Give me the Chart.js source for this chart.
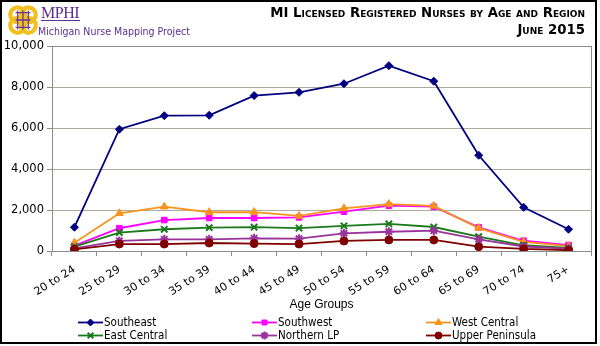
<!DOCTYPE html>
<html>
<head>
<meta charset="utf-8">
<script src="https://cdn.jsdelivr.net/npm/chart.js@4.4.1/dist/chart.umd.min.js"></script>
<style>
  html, body { margin: 0; padding: 0; background: #fff; }
  #frame { position: relative; width: 600px; height: 346px; overflow: hidden; }
  #box { position: absolute; left: 0; top: 0; width: 597px; height: 344px; box-sizing: border-box; border: 2px solid #000; }
  #chart { position: absolute; left: 0; top: 0; }
  #logo { position: absolute; left: 6px; top: 3px; }
  #brand { position: absolute; left: 41px; top: 5px; font-family: "Liberation Serif", serif; font-size: 16px; color: #5b2d8e; letter-spacing: -0.5px; border-bottom: 1.5px solid #5b2d8e; line-height: 15px; padding-right: 1px; }
  #project { position: absolute; left: 38px; top: 25px; font-family: "DejaVu Sans Condensed", "DejaVu Sans", sans-serif; font-size: 10.5px; color: #5b2d8e; }
  .title { position: absolute; right: 15px; font-family: "DejaVu Sans", sans-serif; font-weight: bold; font-size: 13.3px; font-variant: small-caps; color: #000; white-space: nowrap; }
  #legend { position: absolute; left: 0; top: 316px; width: 600px; height: 28px; font-family: "DejaVu Sans Condensed", "DejaVu Sans", sans-serif; font-size: 11.5px; color: #000; }
  .item { position: absolute; height: 13px; line-height: 13px; white-space: nowrap; }
  .item canvas { vertical-align: top; margin-right: 1px; }
</style>
</head>
<body>
<div id="frame">
  <canvas id="chart" width="600" height="346"></canvas>
  <div id="box"></div>
  <svg id="logo" width="34" height="34" viewBox="0 0 32 32">
    <g fill="none" stroke="#f2c01e" stroke-width="4">
      <circle cx="11" cy="11" r="7"/>
      <circle cx="21" cy="11" r="7"/>
      <circle cx="11" cy="21" r="7"/>
      <circle cx="21" cy="21" r="7"/>
    </g>
    <g stroke="#6a3b96" stroke-width="1.2" fill="none">
      <path d="M9 9 H23 M9 16 H23 M9 23 H23 M11 7 V25 M16 7 V25 M21 7 V25"/>
    </g>
  </svg>
  <div id="brand">MPHI</div>
  <div id="project">Michigan Nurse Mapping Project</div>
  <div class="title" style="top:5px;">MI Licensed Registered Nurses by Age and Region</div>
  <div class="title" style="top:22px;">June 2015</div>
  <div id="legend"></div>
</div>
<script>
// Age bands on the category axis
const ageGroups = ['20 to 24', '25 to 29', '30 to 34', '35 to 39', '40 to 44', '45 to 49',
                   '50 to 54', '55 to 59', '60 to 64', '65 to 69', '70 to 74', '75+'];

// Licensed RNs per region and age band
const southeast      = [1160, 5940, 6600, 6620, 7580, 7740, 8160, 9040, 8280, 4670, 2130, 1060];
const southwest      = [260, 1110, 1510, 1610, 1610, 1640, 1920, 2210, 2160, 1150, 500, 290];
const westCentral    = [400, 1840, 2160, 1890, 1900, 1710, 2080, 2290, 2200, 1120, 450, 240];
const eastCentral    = [210, 900, 1060, 1140, 1160, 1120, 1230, 1320, 1170, 700, 280, 150];
const northernLP     = [130, 490, 570, 570, 620, 600, 860, 940, 990, 570, 220, 120];
const upperPeninsula = [80, 340, 340, 390, 360, 340, 490, 540, 540, 210, 100, 40];

const regionNames = ['Southeast', 'Southwest', 'West Central', 'East Central', 'Northern LP', 'Upper Peninsula'];

const series = [
  { label: regionNames[0], data: southeast,      color: '#000080', style: 'rectRot',  radius: 4 },
  { label: regionNames[1], data: southwest,      color: '#ff00ff', style: 'rect',     radius: 4 },
  { label: regionNames[2], data: westCentral,    color: '#f7941d', style: 'triangle', radius: 4.5 },
  { label: regionNames[3], data: eastCentral,    color: '#1a7a1a', style: 'crossRot', radius: 4.5 },
  { label: regionNames[4], data: northernLP,     color: '#993399', style: 'star',     radius: 4.5 },
  { label: regionNames[5], data: upperPeninsula, color: '#800000', style: 'circle',   radius: 4 }
];

const GRID = '#aeaa9e';
const AXIS = '#8c8c8c';

// Thin grey frame round the plotting area
const plotFrame = {
  id: 'plotFrame',
  afterDraw(chart) {
    const a = chart.chartArea, c = chart.ctx;
    c.save();
    c.strokeStyle = AXIS;
    c.lineWidth = 1;
    c.strokeRect(Math.round(a.left) + 0.5, Math.round(a.top) + 0.5,
                 Math.round(a.right - a.left), Math.round(a.bottom - a.top));
    c.restore();
  }
};

const chart = new Chart(document.getElementById('chart'), {
  type: 'line',
  data: {
    labels: ageGroups,
    datasets: series.map((s, i) => ({
      label: s.label,
      data: s.data,
      borderColor: s.color,
      backgroundColor: s.color,
      pointBackgroundColor: s.color,
      pointBorderColor: s.color,
      pointStyle: s.style,
      pointRadius: s.radius,
      pointBorderWidth: (s.style === 'crossRot' || s.style === 'star') ? 2 : 1,
      borderWidth: 1.8,
      tension: 0,
      fill: false,
      order: series.length - i
    }))
  },
  options: {
    responsive: false,
    animation: false,
    events: [],
    layout: { padding: { left: 0, right: 9, top: 46, bottom: 34 } },
    plugins: { legend: { display: false }, tooltip: { enabled: false } },
    scales: {
      x: {
        offset: true,
        afterFit(scale) { scale.height = 61; },
        grid: { offset: true, drawOnChartArea: false, drawTicks: true, tickLength: 5, color: AXIS },
        border: { color: AXIS, width: 1 },
        ticks: {
          autoSkip: false, minRotation: 32, maxRotation: 32, padding: 7,
          color: '#000', font: { family: 'DejaVu Sans', size: 11 }
        },
        title: {
          display: true, text: 'Age Groups', color: '#000',
          font: { family: 'Liberation Sans', size: 12 }, padding: { top: 0, bottom: 0 }
        }
      },
      y: {
        min: 0, max: 10000,
        afterFit(scale) { scale.width = 52; },
        grid: { color: GRID, lineWidth: 1, tickLength: 5, tickColor: AXIS },
        border: { color: AXIS, width: 1 },
        ticks: {
          stepSize: 2000, padding: 3, color: '#000',
          font: { family: 'DejaVu Sans', size: 11.5 },
          callback: v => v.toLocaleString('en-US')
        }
      }
    }
  },
  plugins: [plotFrame]
});

// Three-column legend under the chart, using each dataset's own style
const legend = document.getElementById('legend');
const colX = [78, 252, 426];
series.forEach((s, i) => {
  const item = document.createElement('div');
  item.className = 'item';
  item.style.left = colX[i % 3] + 'px';
  item.style.top = (Math.floor(i / 3) * 13) + 'px';
  const sw = document.createElement('canvas');
  sw.width = 25; sw.height = 13;
  const c = sw.getContext('2d');
  c.strokeStyle = s.color; c.lineWidth = 1.8;
  c.beginPath(); c.moveTo(0, 6.5); c.lineTo(25, 6.5); c.stroke();
  c.fillStyle = s.color; c.lineWidth = (s.style === 'crossRot' || s.style === 'star') ? 2 : 1;
  Chart.helpers.drawPoint(c, { pointStyle: s.style, radius: s.radius - 0.5, borderWidth: c.lineWidth }, 12.5, 6.5);
  item.appendChild(sw);
  item.appendChild(document.createTextNode(s.label));
  legend.appendChild(item);
});
</script>
</body>
</html>
